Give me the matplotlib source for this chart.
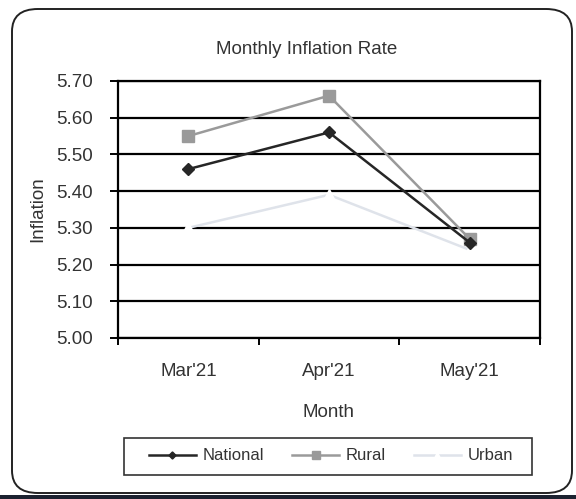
import numpy as np
import matplotlib.pyplot as plt
from matplotlib.patches import FancyBboxPatch, Rectangle

months = ["Mar'21", "Apr'21", "May'21"]
national = [5.46, 5.56, 5.26]
rural = [5.55, 5.66, 5.27]
urban = [5.30, 5.39, 5.24]
yticks = [5.00, 5.10, 5.20, 5.30, 5.40, 5.50, 5.60, 5.70]

plt.rcParams['font.family'] = ['Liberation Sans', 'DejaVu Sans']

fig = plt.figure(figsize=(5.76, 4.99), dpi=100)
W, H = 576, 499
txt = "#333333"

# rounded frame around the chart
frame = FancyBboxPatch((12 / W, 6 / H), 560 / W, 484 / H,
                       boxstyle="round,pad=0,rounding_size=0.045",
                       transform=fig.transFigure, fill=False,
                       edgecolor="#222222", linewidth=1.4)
fig.patches.append(frame)
fig.patches.append(Rectangle((0, 0), 1, 4 / H, transform=fig.transFigure,
                             facecolor="#1c2230", edgecolor="none"))

ax = fig.add_axes([118 / W, 1 - 338 / H, 422 / W, 257 / H])
x = np.arange(len(months)) + 0.5

for v in yticks:
    ax.axhline(v, color="black", linewidth=1.6, zorder=1)

ax.plot(x, urban, color="#dfe3ea", linewidth=1.8, marker="^", markersize=8,
        markerfacecolor="white", markeredgecolor="white", label="Urban", zorder=2)
ax.plot(x, rural, color="#9a9a9a", linewidth=1.8, marker="s", markersize=9,
        label="Rural", zorder=3)
ax.plot(x, national, color="#262626", linewidth=1.8, marker="D", markersize=6,
        label="National", zorder=4)

ax.set_xlim(0, 3)
ax.set_ylim(5.00, 5.70)
ax.set_yticks(yticks)
ax.set_yticklabels([f"{v:.2f}" for v in yticks], fontsize=13.5, color=txt)
ax.set_xticks([0, 1, 2, 3])
ax.set_xticklabels([])
ax.set_xticks(x, minor=True)
ax.set_xticklabels(months, minor=True, fontsize=13.5, color=txt)
ax.tick_params(axis="x", which="minor", length=0, pad=18)
ax.tick_params(axis="x", which="major", length=5, width=1.4, direction="out")
ax.tick_params(axis="y", length=6, width=1.4, direction="out", pad=12)
for s in ax.spines.values():
    s.set_linewidth(1.6)
    s.set_color("black")

ax.set_xlabel("Month", fontsize=13.5, color=txt, labelpad=17)
ax.set_ylabel("Inflation", fontsize=13.5, color=txt, labelpad=7)
fig.text(307 / W, 1 - 50 / H, "Monthly Inflation Rate", fontsize=13.5,
         color=txt, ha="center", va="center")

# legend box drawn separately so it can be wider than its entries
fig.patches.append(Rectangle((124 / W, 1 - 475 / H), 408 / W, 37 / H,
                             transform=fig.transFigure, fill=False,
                             edgecolor="#333333", linewidth=1.2))
handles, labels = ax.get_legend_handles_labels()
order = [2, 1, 0]
leg = fig.legend([handles[i] for i in order], [labels[i] for i in order],
                 loc="center", bbox_to_anchor=(331 / W, 1 - 456 / H), ncol=3,
                 fontsize=12, frameon=False, handlelength=2.8,
                 columnspacing=1.7, handletextpad=0.4, markerscale=0.6)
for t in leg.get_texts():
    t.set_color(txt)

fig.savefig("out.png", dpi=100)
